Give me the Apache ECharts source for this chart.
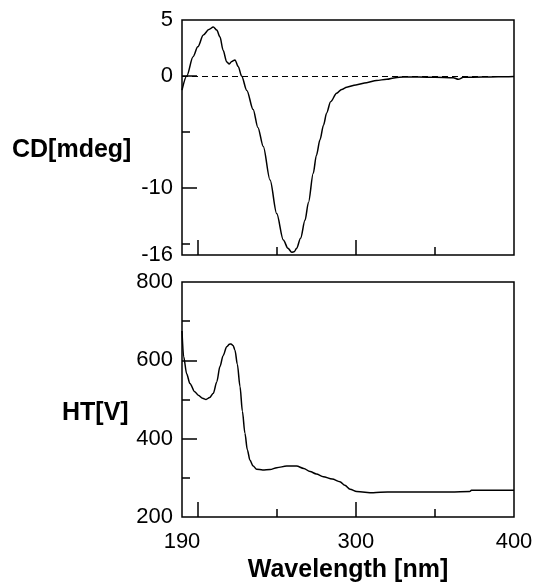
<!DOCTYPE html>
<html>
<head>
<meta charset="utf-8">
<script src="https://cdn.jsdelivr.net/npm/echarts@6/dist/echarts.min.js"></script>
<style>
  html, body { margin: 0; padding: 0; background: #fff; }
  #chart { width: 537px; height: 585px; }
</style>
</head>
<body>
<div id="chart"></div>
<script>
// CD spectrum (mdeg) against wavelength (nm)
var cdWavelength = [190, 193, 197, 200, 203.5, 207, 209.8, 212, 214, 216, 218.3, 219.9, 221.5, 223.5, 225.6, 227.7,
    231, 235, 238, 241.4, 245.7, 249.9, 254.1, 257, 259.4, 261, 262.5, 265, 267.8, 270, 273, 275, 277.3, 279.5,
    281.5, 284, 287.8, 291, 294.2, 300, 306.8, 313, 319.5, 325, 330, 340, 350, 361.6, 364.8, 368, 380, 390, 400];
var cdValues = [-1.26, 0, 1.72, 2.6, 3.66, 4.15, 4.38, 4.1, 3.5, 2.3, 1.25, 1.07, 1.3, 1.43, 0.83, 0,
    -1.3, -3.0, -4.6, -6.3, -9.3, -12.3, -14.66, -15.4, -15.75, -15.7, -15.4, -14.5, -12.9, -11.3, -8.7, -7.1, -5.7, -4.4,
    -3.3, -2.3, -1.55, -1.2, -1.0, -0.8, -0.6, -0.4, -0.3, -0.15, -0.1, -0.1, -0.12, -0.15, -0.3, -0.12, -0.1, -0.08, -0.05];

// HT voltage (V) against wavelength (nm)
var htWavelength = [190, 191, 193, 195, 198, 200.3, 203, 205.2, 207.5, 209.8, 212, 214, 216, 218.3, 220, 221,
    222.3, 223.5, 225, 226.7, 228.2, 229.8, 231.3, 233, 235, 237.2, 241, 245.7, 250, 256.2, 262.5, 267, 271, 275,
    279.4, 285, 289.9, 293, 296.3, 300.5, 311, 320, 340, 360, 372, 373, 400];
var htValues = [675, 610, 565, 541, 520, 511, 503, 500, 505, 516, 545, 584, 612, 635, 641, 642,
    638, 626, 590, 533, 470, 414, 372, 345, 330, 322, 320, 321, 326, 330, 330, 324, 316, 310,
    303, 297, 290, 281, 271, 265, 262, 264, 264, 264, 265, 268, 268];

// y tick labels / tick marks
var cdLabels = [-16, -10, 0, 5];
var cdMajorTicks = [-10, 0];
var cdMinorTicks = [-15, -5];
var htLabels = [200, 400, 600, 800];
var htMajorTicks = [400, 600];
var htMinorTicks = [300, 500, 700];
// x tick labels / tick marks
var xLabels = [190, 300, 400];
var xMajorTicks = [200, 300];
var xMinorTicks = [250, 350];

function pairs(xs, ys) {
    return xs.map(function (x, i) { return [x, ys[i]]; });
}

var font = "'Liberation Sans', Arial, sans-serif";
var labelStyle = { fontFamily: font, fontSize: 22, color: '#000' };

function xAxis(gridIndex, ticks, len, labels) {
    return {
        type: 'value', gridIndex: gridIndex, min: 190, max: 400, position: 'bottom',
        axisLine: { show: false, onZero: false },
        splitLine: { show: false },
        axisTick: { inside: true, length: len, customValues: ticks, lineStyle: { color: '#000', width: 1.5 } },
        axisLabel: labels ? Object.assign({ customValues: labels, margin: 14 }, labelStyle) : { show: false }
    };
}

function yAxis(gridIndex, min, max, ticks, len, labels) {
    return {
        type: 'value', gridIndex: gridIndex, min: min, max: max, position: 'left',
        axisLine: { show: false, onZero: false },
        splitLine: { show: false },
        axisTick: { inside: true, length: len, customValues: ticks, lineStyle: { color: '#000', width: 1.5 } },
        axisLabel: labels ? Object.assign({ customValues: labels, margin: 9 }, labelStyle) : { show: false }
    };
}

var chart = echarts.init(document.getElementById('chart'));
chart.setOption({
    animation: false,
    backgroundColor: '#fff',
    grid: [
        { left: 182, top: 20, width: 332, height: 235, show: true, borderColor: '#000', borderWidth: 1.5 },
        { left: 182, top: 282, width: 332, height: 235, show: true, borderColor: '#000', borderWidth: 1.5 }
    ],
    xAxis: [
        xAxis(0, xMajorTicks, 15, null),
        xAxis(0, xMinorTicks, 8, null),
        xAxis(1, xMajorTicks, 15, xLabels),
        xAxis(1, xMinorTicks, 8, null)
    ],
    yAxis: [
        yAxis(0, -16, 5, cdMajorTicks, 15, cdLabels),
        yAxis(0, -16, 5, cdMinorTicks, 8, null),
        yAxis(1, 200, 800, htMajorTicks, 15, htLabels),
        yAxis(1, 200, 800, htMinorTicks, 8, null)
    ],
    graphic: [
        { type: 'text', left: 12, top: 138, style: { text: 'CD[mdeg]', font: 'bold 25px ' + font, fill: '#000' } },
        { type: 'text', left: 62, top: 401, style: { text: 'HT[V]', font: 'bold 25px ' + font, fill: '#000' } },
        { type: 'text', x: 348, y: 570, style: { text: 'Wavelength [nm]', font: 'bold 25px ' + font, fill: '#000', align: 'center', verticalAlign: 'middle' } }
    ],
    series: [
        {
            type: 'line', xAxisIndex: 0, yAxisIndex: 0,
            data: pairs(cdWavelength, cdValues),
            showSymbol: false, smooth: 0.3, smoothMonotone: 'x',
            lineStyle: { color: '#000', width: 1.5 },
            markLine: {
                silent: true, symbol: 'none', label: { show: false },
                lineStyle: { color: '#000', width: 1.2, type: [6, 4] },
                data: [{ yAxis: 0 }]
            }
        },
        {
            type: 'line', xAxisIndex: 2, yAxisIndex: 2,
            data: pairs(htWavelength, htValues),
            showSymbol: false, smooth: 0.3, smoothMonotone: 'x',
            lineStyle: { color: '#000', width: 1.5 }
        }
    ]
});
</script>
</body>
</html>
